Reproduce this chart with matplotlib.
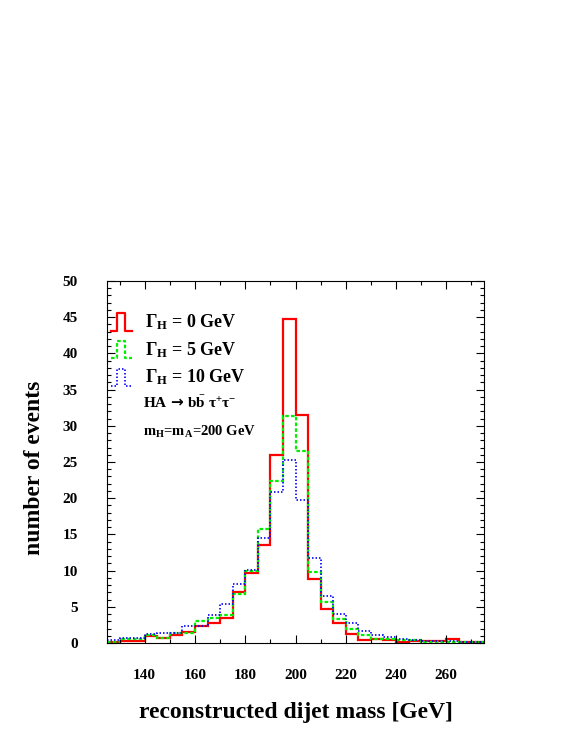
import numpy as np
import matplotlib
matplotlib.use("Agg")
import matplotlib.pyplot as plt
from matplotlib.legend_handler import HandlerLine2D
from matplotlib.lines import Line2D
from matplotlib.ticker import MultipleLocator

plt.rcParams['font.family'] = ['Liberation Serif', 'DejaVu Serif']
plt.rcParams['font.weight'] = 'bold'
plt.rcParams['mathtext.fontset'] = 'custom'
plt.rcParams['mathtext.rm'] = 'Liberation Serif:bold'
plt.rcParams['mathtext.it'] = 'Liberation Serif:italic:bold'
plt.rcParams['mathtext.bf'] = 'Liberation Serif:bold'
plt.rcParams['mathtext.sf'] = 'DejaVu Sans'

# dijet mass bins, 5 GeV wide
edges = np.arange(125, 276, 5)

# number of events per bin for the three widths
width0 = [0.1, 0.3, 0.3, 0.95, 0.75, 1.05, 1.5, 2.3, 2.8, 3.5, 7.0, 9.6, 13.5, 25.9, 44.8,
          31.5, 8.9, 4.7, 2.7, 1.25, 0.35, 0.5, 0.45, 0.2, 0.3, 0.3, 0.3, 0.5, 0.1, 0.1]
width5 = [0.2, 0.55, 0.55, 1.15, 0.7, 1.4, 1.4, 3.05, 3.4, 3.9, 6.7, 10.0, 15.7, 22.4, 31.4,
          26.5, 9.85, 5.65, 3.35, 1.95, 1.1, 0.6, 0.6, 0.45, 0.45, 0.2, 0.15, 0.1, 0.15, 0.15]
width10 = [0.35, 0.65, 0.65, 1.25, 1.35, 1.35, 2.4, 2.4, 3.85, 5.45, 8.15, 10.1, 14.5, 20.9, 25.3,
           19.8, 11.7, 6.5, 4.0, 2.7, 1.6, 1.05, 0.8, 0.55, 0.35, 0.25, 0.3, 0.25, 0.2, 0.15]

labels = [r"$\Gamma_{\rm H}$ = 0 GeV", r"$\Gamma_{\rm H}$ = 5 GeV", r"$\Gamma_{\rm H}$ = 10 GeV"]


class HandlerStep(HandlerLine2D):
    # little histogram-bar glyph like ROOT legends
    def create_artists(self, legend, orig_handle, xdescent, ydescent, width, height, fontsize, trans):
        xs = -xdescent + width * np.array([0, 0.3, 0.3, 0.67, 0.67, 1.0])
        ys = -ydescent + height * np.array([-0.15, -0.15, 1.0, 1.0, -0.15, -0.15])
        line = Line2D(xs, ys)
        self.update_prop(line, orig_handle, legend)
        line.set_transform(trans)
        return [line]


fig = plt.figure(figsize=(5.81, 7.52), dpi=100)
ax = fig.add_axes([107/581, 1 - 643/752, 377/581, 362/752])

h0 = ax.stairs(width0, edges, color='#ff0000', lw=1.6, baseline=None)
h5 = ax.stairs(width5, edges, color='#00ee00', lw=1.6, ls=(0, (1.6, 1.0)), baseline=None)
h10 = ax.stairs(width10, edges, color='#0000ff', lw=1.2, ls=(0, (0.9, 1.2)), baseline=None)

ax.set_xlim(125, 275)
ax.set_ylim(0, 50)
ax.xaxis.set_minor_locator(MultipleLocator(10))
ax.set_xticks(np.arange(140, 261, 20))
ax.yaxis.set_major_locator(MultipleLocator(5))
ax.yaxis.set_minor_locator(MultipleLocator(1))
ax.tick_params(which='both', direction='in', top=True, right=True, width=0.8)
ax.tick_params(which='major', length=5.5, labelsize=11)
ax.tick_params(which='minor', length=2.8)
ax.tick_params(axis='x', pad=19)
ax.tick_params(axis='y', pad=21)
for s in ax.spines.values():
    s.set_linewidth(0.8)

ax.set_xlabel("reconstructed dijet mass [GeV]", fontsize=17, fontweight='bold')
ax.set_ylabel("number of events", fontsize=17, fontweight='bold')
ax.xaxis.set_label_coords(0.5, -0.163)
ax.yaxis.set_label_coords(-0.165, 0.483)

proxies = [Line2D([], [], color='#ff0000', lw=1.6),
           Line2D([], [], color='#00ee00', lw=1.6, ls=(0, (1.6, 1.0))),
           Line2D([], [], color='#0000ff', lw=1.2, ls=(0, (0.9, 1.2)))]
ax.legend(proxies, labels, loc='upper left', bbox_to_anchor=(0.01, 0.914), frameon=False,
          fontsize=13, handlelength=1.2, handleheight=0.9, handletextpad=0.7,
          labelspacing=0.45, borderpad=0, borderaxespad=0,
          handler_map={Line2D: HandlerStep()})

ax.text(0.095, 0.663, r"HA$\,{\mathsf{\rightarrow}}\,$b$\bar{\rm b}$ $\rm\tau^{+}\tau^{-}$",
        transform=ax.transAxes, fontsize=11, fontweight='bold', va='center')
ax.text(0.095, 0.583, r"m$_{\rm H}$=m$_{\rm A}$=200 GeV",
        transform=ax.transAxes, fontsize=10.5, fontweight='bold', va='center')

fig.savefig("out.png", dpi=100)
